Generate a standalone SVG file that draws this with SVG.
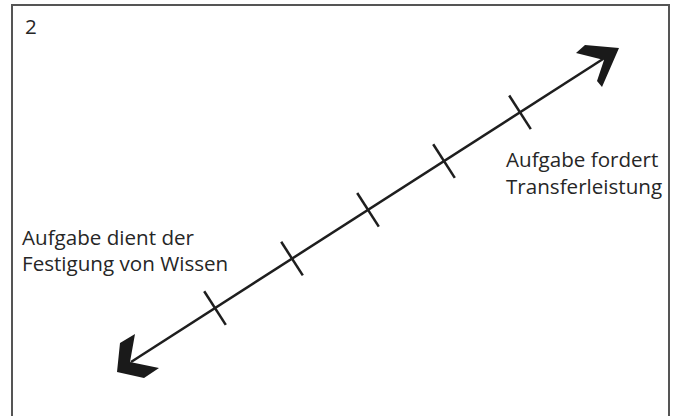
<svg xmlns="http://www.w3.org/2000/svg" width="674" height="416" viewBox="0 0 674 416">
<style>
.t{font-family:"Open Sans","Liberation Sans",sans-serif;font-size:20.6px;fill:#262626}
.ln{stroke:#1e1e1e;stroke-width:2.5;fill:none}
.hd{fill:#1a1a1a}
</style>
<rect width="674" height="416" fill="#fff"/>
<path d="M12 420 V5 H669 V420" fill="none" stroke="#555" stroke-width="2"/>
<text class="t" x="25" y="34">2</text>
<g id="connectors">
<line class="ln" x1="131" y1="362" x2="603" y2="59"/>
<line class="ln" x1="204.2" y1="291.3" x2="225.8" y2="324.9"/>
<line class="ln" x1="281.2" y1="241.8" x2="302.8" y2="275.4"/>
<line class="ln" x1="357.2" y1="193" x2="378.8" y2="226.6"/>
<line class="ln" x1="433.2" y1="144.3" x2="454.8" y2="177.9"/>
<line class="ln" x1="509.2" y1="95.5" x2="530.8" y2="129.1"/>
<polygon class="hd" points="576,53 585,45 619,48 602,87 597,81 604,60"/>
<polygon class="hd" points="117,372 120,343 135,334 130,362 159,368 144,378"/>
</g>
<g id="right-label">
<text class="t" x="506" y="167">Aufgabe fordert</text>
<text class="t" x="506" y="194">Transferleistung</text>
</g>
<g id="left-label">
<text class="t" x="22" y="245">Aufgabe dient der</text>
<text class="t" x="22" y="271">Festigung von Wissen</text>
</g>
</svg>
